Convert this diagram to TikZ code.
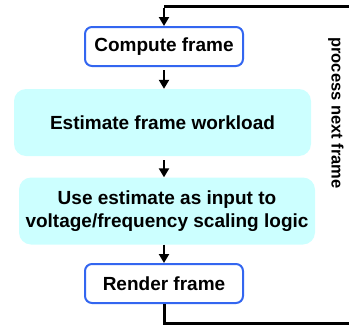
\documentclass[tikz,border=0pt]{standalone}
\usepackage{fontspec}
\setmainfont{Liberation Sans}
\usetikzlibrary{arrows.meta}
\definecolor{boxblue}{HTML}{3366F0}
\definecolor{boxcyan}{HTML}{CCFFFF}
\begin{document}
\begin{tikzpicture}[x=1pt,y=-1pt,
  stagebox/.style={draw=boxblue, line width=2pt, fill=white, rounded corners=7pt,
    minimum width=158pt, minimum height=39pt, inner sep=0pt,
    font=\fontsize{19}{23}\selectfont\bfseries},
  workbox/.style={fill=boxcyan, rounded corners=12pt, inner sep=0pt,
    minimum height=67pt, align=center,
    font=\fontsize{19}{23.5}\selectfont\bfseries},
  flow/.style={line width=2.5pt, -{Triangle[width=10pt,length=9pt]}},
  loop/.style={line width=3pt}]
\clip (0,0) rectangle (349,325);
\useasboundingbox (0,0) rectangle (349,325);

\node[stagebox] (compute) at (164,46.5) {Compute frame};
\node[workbox, minimum width=297pt] (estimate) at (162.5,122.5) {Estimate frame workload};
\node[workbox, minimum width=296pt] (scaling) at (167,211) {Use estimate as input to\\voltage/frequency scaling logic};
\node[stagebox] (render) at (164,283.5) {Render frame};

\node[rotate=-90, font=\fontsize{16.5}{20}\selectfont\bfseries] (loopnote) at (336,113) {process next frame};

% return path from rendering back to the top of the loop
\coordinate (bottomleft) at (164,323.5);
\coordinate (bottomright) at (360,323.5);
\coordinate (topright) at (360,6);
\coordinate (topleft) at (164,6);
\draw[loop] (render.south) -- (bottomleft) -- (bottomright) -- (topright) -- (topleft);
\draw[flow] ([yshift=-1.5pt]topleft) -- (compute.north);

% stage-to-stage arrows
\draw[flow] ([yshift=-3pt]compute.south) -- (compute.south |- estimate.north);
\draw[flow] ([yshift=-4pt]compute.south |- estimate.south) -- (compute.south |- scaling.north);
\draw[flow] (compute.south |- scaling.south) -- (render.north);
\end{tikzpicture}
\end{document}
